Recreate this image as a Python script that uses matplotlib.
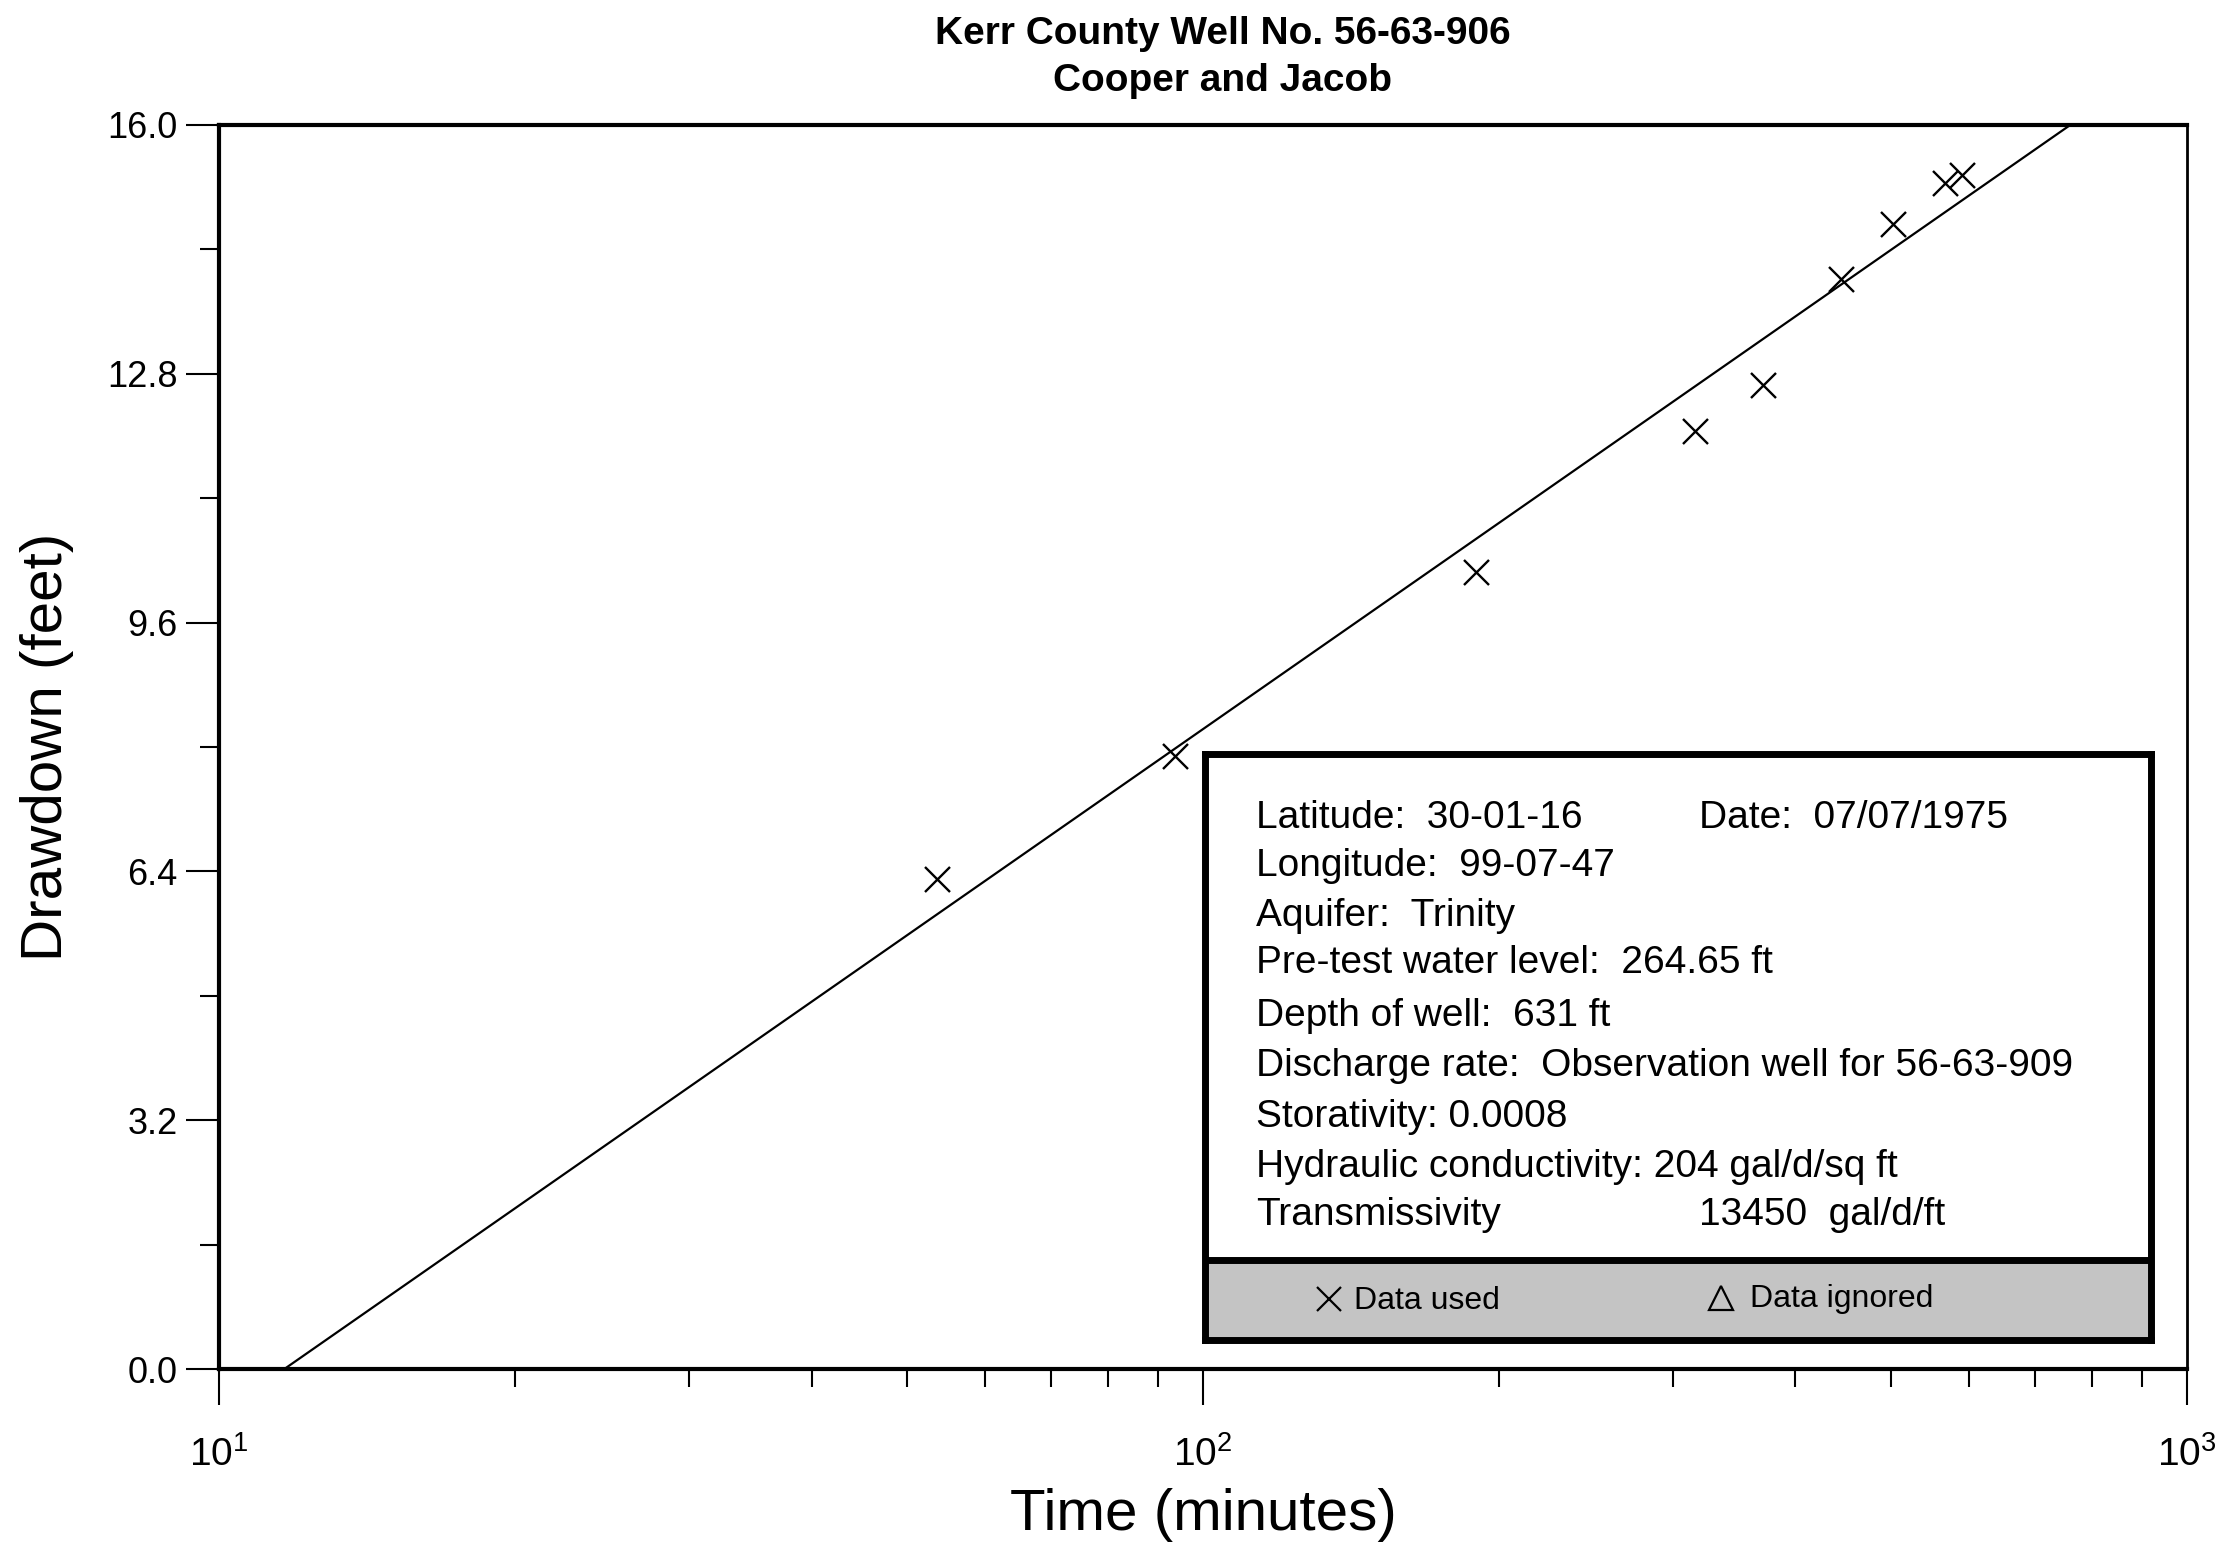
import numpy as np
import matplotlib
matplotlib.use("Agg")
from matplotlib import pyplot as plt
from matplotlib.ticker import FixedLocator, LogLocator, LogFormatterSciNotation

plt.rcParams['font.family'] = ['Liberation Sans', 'DejaVu Sans']
plt.rcParams['mathtext.fontset'] = 'custom'
plt.rcParams['mathtext.rm'] = 'Liberation Sans'

# observed drawdown (data used)
time_used = [53.6, 93.7, 189.2, 316.0, 370.7, 445.3, 502.0, 567.8, 590.8]
drawdown_used = [6.30, 7.89, 10.25, 12.06, 12.65, 14.02, 14.72, 15.25, 15.36]
# no points ignored on this well
time_ignored = []
drawdown_ignored = []

# Cooper-Jacob straight line fit (end points)
fit_time = [11.65, 761.0]
fit_drawdown = [0.0, 16.0]

y_major = [0.0, 3.2, 6.4, 9.6, 12.8, 16.0]
y_minor = [1.6, 4.8, 8.0, 11.2, 14.4]

info_left = ["Latitude:  30-01-16",
             "Longitude:  99-07-47",
             "Aquifer:  Trinity",
             "Pre-test water level:  264.65 ft",
             "Depth of well:  631 ft",
             "Discharge rate:  Observation well for 56-63-909",
             "Storativity: 0.0008",
             "Hydraulic conductivity: 204 gal/d/sq ft",
             "Transmissivity"]
info_rows_y = [0.891, 0.808, 0.723, 0.643, 0.553, 0.468, 0.381, 0.296, 0.214]
date_text = "Date:  07/07/1975"
trans_value = "13450  gal/d/ft"

fig = plt.figure(figsize=(22.31, 15.52), dpi=100)
ax = fig.add_axes([0.0982, 0.1179, 0.8821, 0.8016])

ax.plot(fit_time, fit_drawdown, color='black', lw=1.6)
ax.plot(time_used, drawdown_used, linestyle='none', marker='x', ms=18,
        mew=1.7, color='black')
ax.plot(time_ignored, drawdown_ignored, linestyle='none', marker='^', ms=18,
        mfc='none', mew=1.7, color='black')

ax.set_xscale('log')
ax.set_xlim(10, 1000)
ax.set_ylim(0, 16)

ax.xaxis.set_major_locator(LogLocator(base=10, numticks=5))
ax.xaxis.set_minor_locator(LogLocator(base=10, subs=np.arange(2, 10), numticks=10))
ax.xaxis.set_major_formatter(LogFormatterSciNotation())
ax.yaxis.set_major_locator(FixedLocator(y_major))
ax.yaxis.set_minor_locator(FixedLocator(y_minor))
ax.set_yticklabels([f"{v:.1f}" for v in y_major])

ax.tick_params(axis='y', which='major', direction='out', length=24, width=1.5,
               labelsize=26, pad=6)
ax.tick_params(axis='y', which='minor', direction='out', length=14, width=1.5)
ax.tick_params(axis='x', which='major', direction='out', length=26, width=1.5,
               labelsize=28, pad=22)
ax.tick_params(axis='x', which='minor', direction='out', length=13, width=1.5,
               labelbottom=False)

for side in ['left', 'bottom', 'top', 'right']:
    ax.spines[side].set_linewidth(3)
ax.spines['right'].set_linewidth(2)

ax.set_xlabel("Time (minutes)", fontsize=42)
ax.set_ylabel("Drawdown (feet)", fontsize=42)
ax.xaxis.label.set_va('center')
ax.yaxis.label.set_va('center')
ax.xaxis.set_label_coords(0.5, -0.117)
ax.yaxis.set_label_coords(-0.0874, 0.5)

fig.text(0.548, 0.978, "Kerr County Well No. 56-63-906", ha='center', va='center',
         fontsize=28, fontweight='bold')
fig.text(0.548, 0.948, "Cooper and Jacob", ha='center', va='center',
         fontsize=28, fontweight='bold')

# information box
box = fig.add_axes([0.540, 0.1366, 0.424, 0.3776])
box.set_xlim(0, 1)
box.set_ylim(0, 1)
box.set_xticks([])
box.set_yticks([])
for side in box.spines:
    box.spines[side].set_linewidth(5)
box.axhspan(0, 0.136, color='#c4c4c4', zorder=0)
box.axhline(0.136, color='black', lw=5)

for txt, yy in zip(info_left, info_rows_y):
    box.text(0.054, yy, txt, ha='left', va='center', fontsize=28)
box.text(0.522, info_rows_y[0], date_text, ha='left', va='center', fontsize=28)
box.text(0.522, info_rows_y[-1], trans_value, ha='left', va='center', fontsize=28)

box.plot([0.131], [0.070], marker='x', ms=17, mew=1.6, color='black', linestyle='none')
box.text(0.158, 0.066, "Data used", ha='left', va='center', fontsize=23)
box.plot([0.546], [0.072], marker='^', ms=17, mew=1.6, mfc='none', color='black',
         linestyle='none')
box.text(0.576, 0.070, "Data ignored", ha='left', va='center', fontsize=23)

plt.savefig("out.png", dpi=100)
